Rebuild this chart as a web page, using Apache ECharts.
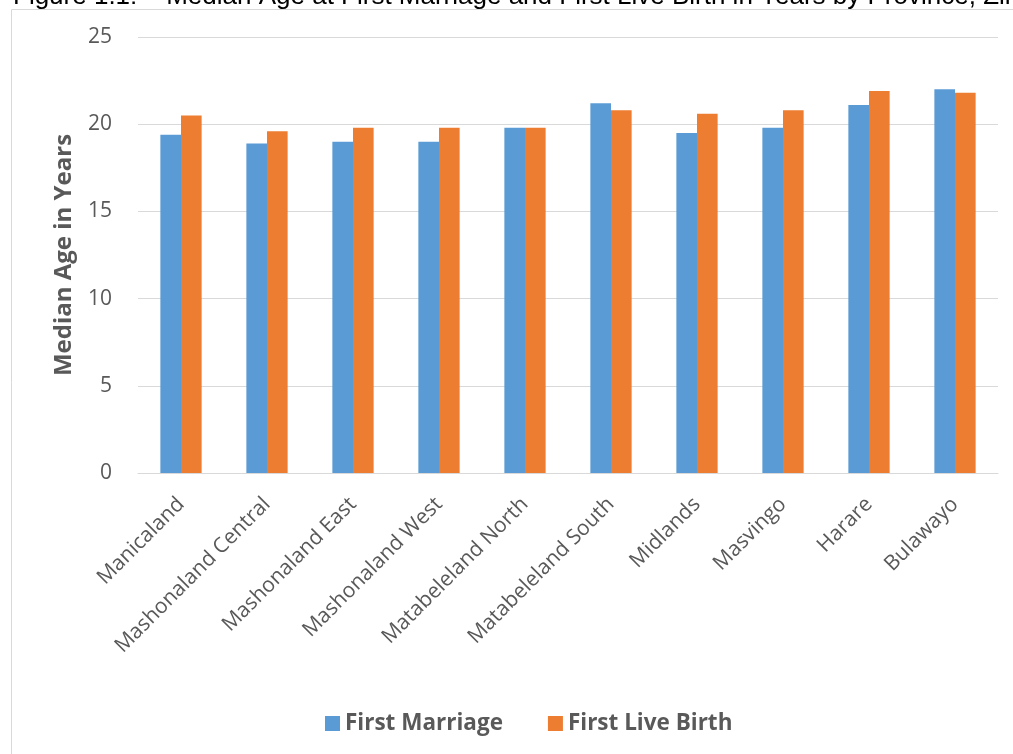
<!DOCTYPE html>
<html>
<head>
<meta charset="utf-8">
<script src="https://cdn.jsdelivr.net/npm/echarts@6/dist/echarts.min.js"></script>
<style>html,body{margin:0;padding:0;background:#fff;}#c{width:1013px;height:754px;}</style>
</head>
<body>
<div id="c"></div>
<script>
const categories = ['Manicaland','Mashonaland Central','Mashonaland East','Mashonaland West','Matabeleland North','Matabeleland South','Midlands','Masvingo','Harare','Bulawayo'];
const firstMarriage = [19.4, 18.9, 19.0, 19.0, 19.8, 21.2, 19.5, 19.8, 21.1, 22.0];
const firstLiveBirth = [20.5, 19.6, 19.8, 19.8, 19.8, 20.8, 20.6, 20.8, 21.9, 21.8];
const yTicks = [0, 5, 10, 15, 20, 25];
const titleText = 'Figure 1.1:    Median Age at First Marriage and First Live Birth in Years by Province, Zimbabwe';

const chart = echarts.init(document.getElementById('c'), null, {renderer: 'canvas'});
const font = '"Open Sans", sans-serif';
chart.setOption({
  animation: false,
  graphic: [
    {type: 'rect', shape: {x: 11.5, y: 9.5, width: 1200, height: 900}, style: {fill: 'none', stroke: '#d9d9d9', lineWidth: 1}, silent: true},
    {type: 'text', x: 13, y: 10, style: {text: titleText, font: '26px "Liberation Sans", Arial, sans-serif', fill: '#000', textVerticalAlign: 'bottom'}, silent: true}
  ],
  grid: {left: 138, right: 15, top: 37, bottom: 281},
  legend: {
    left: 320, top: 707,
    itemWidth: 15, itemHeight: 15, itemGap: 45,
    icon: 'rect',
    textStyle: {fontFamily: font, fontSize: 22.5, fontWeight: 'bold', color: '#595959'},
    data: ['First Marriage', 'First Live Birth']
  },
  xAxis: {
    type: 'category',
    data: categories,
    axisLine: {lineStyle: {color: '#d9d9d9', width: 1}},
    axisTick: {show: false},
    axisLabel: {rotate: 45, interval: 0, margin: 28, fontFamily: font, fontSize: 21, color: '#595959'}
  },
  yAxis: {
    type: 'value',
    min: yTicks[0], max: yTicks[yTicks.length - 1], interval: 5,
    name: 'Median Age in Years',
    nameLocation: 'middle',
    nameGap: 62,
    nameTextStyle: {fontFamily: font, fontSize: 24, fontWeight: 'bold', color: '#595959'},
    axisLine: {show: false},
    axisTick: {show: false},
    splitLine: {lineStyle: {color: '#d9d9d9', width: 1}},
    axisLabel: {fontFamily: font, fontSize: 21, color: '#595959', margin: 26}
  },
  series: [
    {name: 'First Marriage', type: 'bar', data: firstMarriage, itemStyle: {color: '#5B9BD5'}, barGap: '0%', barCategoryGap: '52%'},
    {name: 'First Live Birth', type: 'bar', data: firstLiveBirth, itemStyle: {color: '#ED7D31'}, barGap: '0%', barCategoryGap: '52%'}
  ]
});
</script>
</body>
</html>
